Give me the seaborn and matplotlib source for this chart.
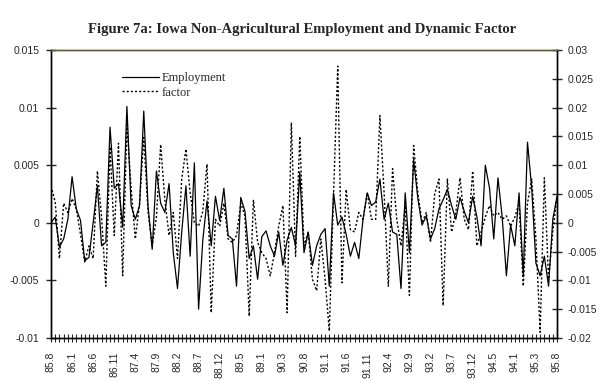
import numpy as np
import pandas as pd
import matplotlib
matplotlib.use("Agg")
import matplotlib.pyplot as plt
import seaborn as sns

# Monthly data, 85.8 .. 95.8 (121 months)
employment = [
    0.0, 0.5, -2.1, -1.4, 0.3, 4.0, 1.2, 0.2, -3.3, -3.0,
    0.0, 3.2, -2.0, -1.7, 8.3, 3.0, 3.4, -0.4, 10.1, 1.5,
    0.3, 1.5, 9.7, 1.5, -2.3, 4.5, 1.7, 0.9, 3.4, -2.6,
    -5.7, -0.8, 3.2, -2.9, 5.2, -7.5, -1.5, 1.9, -2.0, 2.3,
    0.2, 3.0, -1.1, -1.4, -5.5, 2.2, 1.0, -3.1, -2.0, -4.9,
    -1.2, -0.7, -2.0, -2.9, -0.8, -3.7, -1.5, -0.4, -2.0, 4.4,
    -2.6, -0.8, -3.7, -2.0, -1.0, -0.5, -5.5, 2.6, -0.2, 0.5,
    -1.0, -2.9, -1.7, -3.1, 0.3, 2.6, 1.5, 1.8, 3.8, 0.3,
    1.7, -0.8, -1.0, -5.7, 2.6, -2.6, 5.5, 2.1, -0.2, 0.6,
    -1.4, -0.5, 1.2, 2.0, 2.9, 1.5, 0.3, 2.2, 1.0, 0.0,
    2.3, 0.5, -2.0, 5.0, 3.0, -1.4, 3.9, 0.5, -4.6, -0.2,
    -2.0, 2.6, -4.6, 7.0, 3.0, -3.5, -4.6, -2.9, -5.5, 0.3,
    2.3,
]
employment = [v / 1000 for v in employment]

factor = [
    6.4, 3.6, -6.2, 3.4, 1.8, 4.2, 2.4, -2.0, -6.8, -4.0,
    -6.2, 9.0, 1.0, -11.0, 13.2, -2.2, 13.8, -9.2, 17.0, 6.0,
    -2.8, 3.4, 14.8, 2.0, -4.0, 1.0, 13.6, 4.0, -2.2, 1.8,
    -6.2, 7.6, 12.8, 5.2, 0.0, -0.6, 2.0, 10.2, -15.6, 0.6,
    -0.6, 3.4, -2.8, -3.4, -2.2, 3.4, 1.2, -16.2, 4.0, -3.4,
    -5.2, -6.2, -9.2, -5.2, -0.6, 3.0, -15.6, 17.4, -5.8, 15.0,
    -4.0, -1.6, -9.8, -11.8, -2.8, -9.8, -18.8, 4.6, 27.2, -10.4,
    5.8, -1.2, -1.6, 1.8, 0.6, 5.2, 0.6, 0.6, 18.6, 5.2,
    -11.0, 9.4, 0.6, -4.0, 3.0, -12.6, 13.4, 5.2, 0.0, 1.8,
    -3.4, 5.0, 7.6, -14.4, 7.6, -1.6, 1.8, 7.8, 0.6, -1.2,
    9.0, -4.0, -1.6, 1.0, 3.0, 1.2, 1.8, 0.6, 1.2, -0.6,
    1.0, 3.4, -11.0, 3.4, 7.6, -2.8, -19.0, 7.8, -9.8, -1.6,
    4.6,
]
factor = [v / 1000 for v in factor]

tick_labels = ['85.8', '86.1', '86.6', '86.11', '87.4', '87.9', '88.2', '88.7',
               '88.12', '89.5', '89.1', '90.3', '90.8', '91.1', '91.6', '91.11',
               '92.4', '92.9', '93.2', '93.7', '93.12', '94.5', '94.1', '95.3', '95.8']

df = pd.DataFrame({'month': range(len(employment)),
                   'Employment': employment, 'factor': factor})

sns.set_style("white")
plt.rcParams['font.family'] = ['Liberation Sans', 'DejaVu Sans']

fig = plt.figure(figsize=(6.04, 3.81), dpi=100)
ax = fig.add_axes([51 / 604, 1 - 338 / 381, 506 / 604, 288 / 381])
ax2 = ax.twinx()

sns.lineplot(data=df, x='month', y='Employment', ax=ax, color='black',
             linewidth=0.9, label='Employment', legend=False)
sns.lineplot(data=df, x='month', y='factor', ax=ax2, color='black',
             linewidth=1.0, linestyle=(0, (1.5, 1.5)), label='factor', legend=False)

ax.set_xlim(0, len(employment) - 1)
ax.set_ylim(-0.01, 0.015)
ax2.set_ylim(-0.02, 0.03)
ax.set_yticks([-0.01, -0.005, 0, 0.005, 0.01, 0.015])
ax.set_yticklabels(['-0.01', '-0.005', '0', '0.005', '0.01', '0.015'])
ax2.set_yticks([-0.02, -0.015, -0.01, -0.005, 0, 0.005, 0.01, 0.015, 0.02, 0.025, 0.03])
ax2.set_yticklabels(['-0.02', '-0.015', '-0.01', '-0.005', '0', '0.005', '0.01',
                     '0.015', '0.02', '0.025', '0.03'])

ax.set_xticks(range(0, len(employment), 5))
ax.set_xticklabels(tick_labels, rotation=90)
ax.set_xticks(range(len(employment)), minor=True)
ax.set_xlabel('')
ax.set_ylabel('')
ax2.set_ylabel('')

for a in (ax, ax2):
    for s in ('left', 'right', 'bottom'):
        a.spines[s].set_color('black')
        a.spines[s].set_linewidth(1.0)
    a.spines['top'].set_color('#5e5e38')
    a.spines['top'].set_linewidth(1.0)

ax.tick_params(axis='y', direction='inout', length=7, width=1, labelsize=7.5, pad=5, left=True)
ax.tick_params(axis='x', which='both', direction='inout', length=6, width=0.8,
               labelsize=7.5, pad=7, bottom=True)
ax2.tick_params(axis='y', direction='inout', length=7, width=1, labelsize=7.5, pad=4, right=True)

fig.suptitle('Figure 7a: Iowa Non-Agricultural Employment and Dynamic Factor',
             x=0.5, y=0.94, fontsize=10.5, fontweight='bold', family='Liberation Serif')

h1, l1 = ax.get_legend_handles_labels()
h2, l2 = ax2.get_legend_handles_labels()
ax2.legend(h1 + h2, l1 + l2, loc='upper left', bbox_to_anchor=(0.118, 0.962),
           frameon=False, handlelength=3.0, handletextpad=0.15, labelspacing=0.2,
           prop={'family': 'Liberation Serif', 'size': 9})

fig.savefig('out.png', dpi=100, facecolor='white')
